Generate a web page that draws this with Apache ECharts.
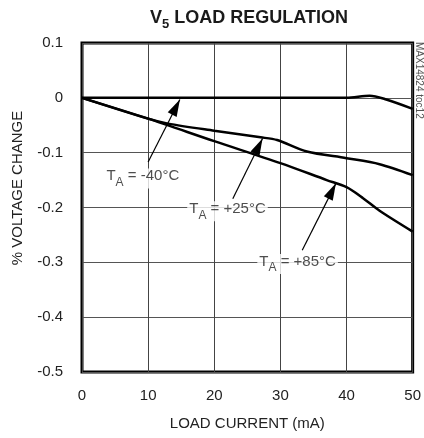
<!DOCTYPE html>
<html>
<head>
<meta charset="UTF-8">
<title>V5 Load Regulation</title>
<script src="https://cdn.jsdelivr.net/npm/echarts@6/dist/echarts.min.js"></script>
<style>
	html, body { margin: 0; padding: 0; background: #fff; }
	#chart { width: 424px; height: 438px; }
</style>
</head>
<body>
<div id="chart"></div>
<script type="text/javascript">
// load current (mA) and % voltage change for each temperature
var cur40 = [0, 20, 40, 43.5, 46, 50];
var v40   = [0, 0, 0, 0.004, -0.003, -0.020];

var cur25 = [0, 10, 13, 20, 27, 29.5, 34, 40, 45, 50];
var v25   = [0, -0.038, -0.047, -0.060, -0.072, -0.077, -0.098, -0.110, -0.121, -0.141];

var cur85 = [0, 10, 20, 30, 37, 40, 42.5, 45, 50];
var v85   = [0, -0.038, -0.079, -0.119, -0.150, -0.163, -0.183, -0.206, -0.244];

var xTicks = [0, 10, 20, 30, 40, 50];
var yTicks = ['-0.5', '-0.4', '-0.3', '-0.2', '-0.1', '0', '0.1'];

// annotations (data coordinates)
var tempNames = ['-40°C', '+25°C', '+85°C'];
var labelPos  = [[9.2, -0.147], [22.0, -0.207], [32.6, -0.303]];
var arrowTail = [[10.0, -0.117], [22.8, -0.184], [33.3, -0.278]];
var arrowTip  = [[14.8, -0.003], [27.3, -0.074], [38.4, -0.156]];

var FONT = 'Liberation Sans, Arial, sans-serif';

function pairs(xs, ys){
	return xs.map(function(x, i){ return [x, ys[i]]; });
}

var chart = echarts.init(document.getElementById('chart'));

var curveStyle = { color: '#000', width: 2.5 };

function curve(name, xs, ys){
	return {
		name: name,
		type: 'line',
		data: pairs(xs, ys),
		showSymbol: false,
		smooth: 0.3,
		lineStyle: curveStyle,
		itemStyle: { color: '#000' },
		z: 3
	};
}

var option = {
	animation: false,
	backgroundColor: '#fff',
	title: {
		text: '{b|V}{s|5}{b| LOAD REGULATION}',
		left: 244,
		top: 4,
		textAlign: 'center',
		textStyle: {
			rich: {
				b: { fontFamily: FONT, fontWeight: 'bold', fontSize: 18, color: '#1a1a1a', lineHeight: 22, verticalAlign: 'top' },
				s: { fontFamily: FONT, fontWeight: 'bold', fontSize: 13, color: '#1a1a1a', lineHeight: 13, verticalAlign: 'bottom' }
			}
		}
	},
	grid: {
		left: 82,
		right: 10,
		top: 43,
		bottom: 66,
		show: true,
		borderColor: '#000',
		borderWidth: 3
	},
	xAxis: {
		type: 'value',
		min: 0,
		max: 50,
		interval: 10,
		name: 'LOAD CURRENT (mA)',
		nameLocation: 'middle',
		nameGap: 44,
		nameTextStyle: { fontFamily: FONT, fontSize: 15, color: '#222' },
		axisLine: { show: false },
		axisTick: { show: false },
		axisLabel: {
			margin: 16,
			fontFamily: FONT,
			fontSize: 15,
			color: '#222',
			formatter: function(v){ return xTicks.indexOf(v) >= 0 ? String(v) : ''; }
		},
		splitLine: { show: true, lineStyle: { color: '#444', width: 1 } }
	},
	yAxis: {
		type: 'value',
		min: -0.5,
		max: 0.1,
		interval: 0.1,
		axisLine: { show: false },
		axisTick: { show: false },
		axisLabel: {
			margin: 19,
			fontFamily: FONT,
			fontSize: 15,
			color: '#222',
			formatter: function(v){ return yTicks[Math.round((v + 0.5) * 10)]; }
		},
		splitLine: { show: true, lineStyle: { color: '#555', width: 1 } }
	},
	graphic: [
		{
			type: 'text',
			x: 18,
			y: 188,
			rotation: Math.PI / 2,
			style: {
				text: '% VOLTAGE CHANGE',
				font: '15px ' + FONT,
				fill: '#222',
				align: 'center',
				verticalAlign: 'middle'
			}
		},
		{
			type: 'text',
			x: 419,
			y: 42,
			rotation: -Math.PI / 2,
			style: {
				text: 'MAX14824 toc12',
				font: '10px ' + FONT,
				fill: '#555',
				align: 'left',
				verticalAlign: 'middle'
			}
		}
	],
	series: [
		curve('TA = -40°C', cur40, v40),
		curve('TA = +25°C', cur25, v25),
		curve('TA = +85°C', cur85, v85),
		{
			// temperature labels
			type: 'scatter',
			data: labelPos.map(function(p, i){ return { value: p, name: tempNames[i] }; }),
			symbolSize: 0,
			z: 4,
			label: {
				show: true,
				position: 'inside',
				backgroundColor: '#fff',
				padding: [0, 2, 0, 2],
				formatter: function(p){ return '{t|T}{s|A}{t| = ' + p.name + '}'; },
				rich: {
					t: { fontFamily: FONT, fontSize: 15, color: '#222', lineHeight: 20, verticalAlign: 'top' },
					s: { fontFamily: FONT, fontSize: 12, color: '#222', lineHeight: 12, verticalAlign: 'bottom' }
				}
			}
		},
		{
			// arrows pointing at the curves
			type: 'line',
			data: [],
			itemStyle: { color: '#000' },
			markLine: {
				silent: true,
				animation: false,
				symbol: ['none', 'triangle'],
				symbolSize: 12,
				itemStyle: { color: '#000' },
				label: { show: false },
				lineStyle: { color: '#000', width: 1.2, type: 'solid' },
				data: arrowTail.map(function(t, i){
					return [
						{ coord: t, symbol: 'none' },
						{
							coord: arrowTip[i],
							symbol: 'path://M5,0L10,16L0,16Z',
							symbolSize: [10, 17],
							symbolOffset: [0, 8.5],
							symbolKeepAspect: false
						}
					];
				})
			}
		}
	]
};

chart.setOption(option);
</script>
</body>
</html>
